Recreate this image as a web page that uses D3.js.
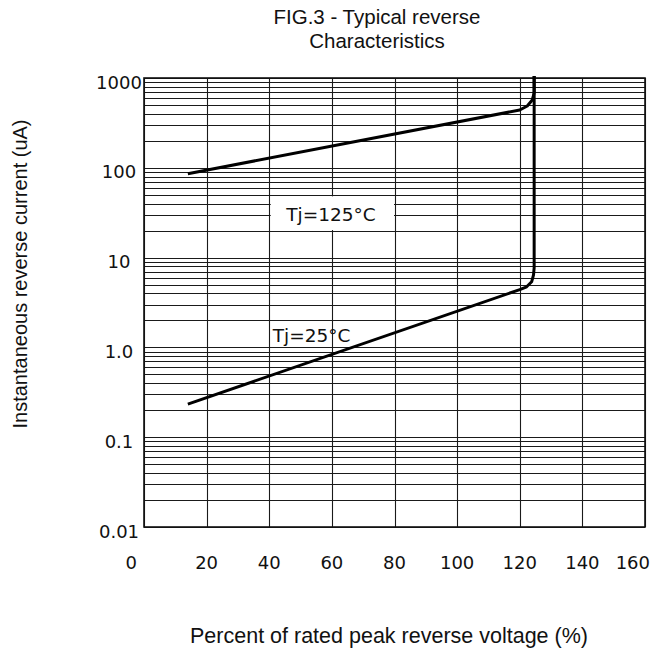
<!DOCTYPE html>
<html>
<head>
<meta charset="utf-8">
<script src="https://cdn.jsdelivr.net/npm/d3@7"></script>
<style>
  body { margin: 0; background: #fff; }
  svg { display: block; }
</style>
</head>
<body>
<div id="chart"></div>
<script>
// series (percent of rated voltage, current in uA)
let pct125 = [14, 120, 122.4, 124, 124.6, 124.6];
let cur125 = [86, 440, 488, 569, 681, 1050];

let pct25 = [14, 120, 122.2, 123.8, 124.4, 124.6, 124.6];
let cur25 = [0.234, 4.4, 4.73, 5.38, 6.43, 7.7, 1050];

let xTicks = [0, 20, 40, 60, 80, 100, 120, 140, 160];
let yTicks = [0.01, 0.1, 1, 10, 100, 1000];
let yTickLabels = ["0.01", "0.1", "1.0", "10", "100", "1000"];

var w = 656,
	h = 650;
var plotL = 144,
	plotT = 78,
	plotR = 645,
	plotB = 527;

var x = d3.scaleLinear().domain([0, 160]).range([plotL, plotR]);
var y = d3.scaleLog().domain([0.01, 1000]).range([plotB, plotT]);

var svg = d3
	.select("#chart")
	.append("svg")
	.attr("width", w)
	.attr("height", h);

// minor + major log grid
let hLines = [];
yTicks.slice(0, -1).forEach((d) => {
	for (let k = 1; k < 10; k++) hLines.push(d * k);
});
hLines.push(1000);

let grid = svg.append("g").attr("stroke", "#1a1a1a").attr("stroke-width", 1.1);

grid
	.selectAll("line.h")
	.data(hLines)
	.enter()
	.append("line")
	.attr("class", "h")
	.attr("x1", plotL)
	.attr("x2", plotR)
	.attr("y1", (d) => Math.round(y(d)) + 0.5)
	.attr("y2", (d) => Math.round(y(d)) + 0.5);

grid
	.selectAll("line.v")
	.data(xTicks)
	.enter()
	.append("line")
	.attr("class", "v")
	.attr("x1", (d) => Math.round(x(d)) + 0.5)
	.attr("x2", (d) => Math.round(x(d)) + 0.5)
	.attr("y1", plotT)
	.attr("y2", plotB);

// white box behind the 125C label
svg
	.append("rect")
	.attr("x", x(40) + 1.5)
	.attr("y", y(50) + 1.5)
	.attr("width", x(80) - x(40) - 2)
	.attr("height", y(20) - y(50) - 2)
	.attr("fill", "white");

// frame
svg
	.append("rect")
	.attr("x", plotL)
	.attr("y", plotT)
	.attr("width", plotR - plotL)
	.attr("height", plotB - plotT)
	.attr("fill", "none")
	.attr("stroke", "#111")
	.attr("stroke-width", 1.6);

// curves
var line = d3
	.line()
	.x((d) => x(d[0]))
	.y((d) => y(d[1]));

[d3.zip(pct125, cur125), d3.zip(pct25, cur25)].forEach((pts) => {
	svg
		.append("path")
		.datum(pts)
		.attr("d", line)
		.attr("fill", "none")
		.attr("stroke", "black")
		.attr("stroke-width", 3)
		.attr("stroke-linejoin", "round");
});

// tick labels
svg
	.append("g")
	.selectAll("text")
	.data(yTicks)
	.enter()
	.append("text")
	.attr("x", plotL - 25)
	.attr("y", (d) => y(d) + 4)
	.attr("text-anchor", "middle")
	.attr("dominant-baseline", "central")
	.attr("font-family", "DejaVu Sans")
	.attr("font-size", 18)
	.attr("fill", "#111")
	.text((d, i) => yTickLabels[i]);

svg
	.append("g")
	.selectAll("text")
	.data(xTicks)
	.enter()
	.append("text")
	.attr("x", (d, i) =>
		i === 0 ? x(d) - 7 : i === xTicks.length - 1 ? x(d) + 5 : x(d)
	)
	.attr("y", plotB + 35)
	.attr("text-anchor", (d, i) =>
		i === 0 || i === xTicks.length - 1 ? "end" : "middle"
	)
	.attr("dominant-baseline", "central")
	.attr("font-family", "DejaVu Sans")
	.attr("font-size", 18)
	.attr("fill", "#111")
	.text((d) => d);

// curve labels
svg
	.append("text")
	.attr("x", x(59.7))
	.attr("y", y(25.5))
	.attr("text-anchor", "middle")
	.attr("font-family", "DejaVu Sans")
	.attr("font-size", 18.5)
	.attr("fill", "#111")
	.text("Tj=125°C");

svg
	.append("text")
	.attr("x", x(53.5))
	.attr("y", y(1.16))
	.attr("text-anchor", "middle")
	.attr("font-family", "DejaVu Sans")
	.attr("font-size", 18.5)
	.attr("fill", "#111")
	.text("Tj=25°C");

// titles
let title = svg
	.append("text")
	.attr("text-anchor", "middle")
	.attr("font-family", "Liberation Sans, Arial")
	.attr("font-size", 20.5)
	.attr("fill", "#111");
title.append("tspan").attr("x", 377).attr("y", 24).text("FIG.3 - Typical reverse");
title.append("tspan").attr("x", 377).attr("y", 48).text("Characteristics");

svg
	.append("text")
	.attr("x", 389)
	.attr("y", 643)
	.attr("text-anchor", "middle")
	.attr("font-family", "Liberation Sans, Arial")
	.attr("font-size", 21.5)
	.attr("fill", "#111")
	.text("Percent of rated peak reverse voltage (%)");

svg
	.append("text")
	.attr("transform", "translate(27,274) rotate(-90)")
	.attr("text-anchor", "middle")
	.attr("font-family", "Liberation Sans, Arial")
	.attr("font-size", 20)
	.attr("fill", "#111")
	.text("Instantaneous reverse current (uA)");
</script>
</body>
</html>
